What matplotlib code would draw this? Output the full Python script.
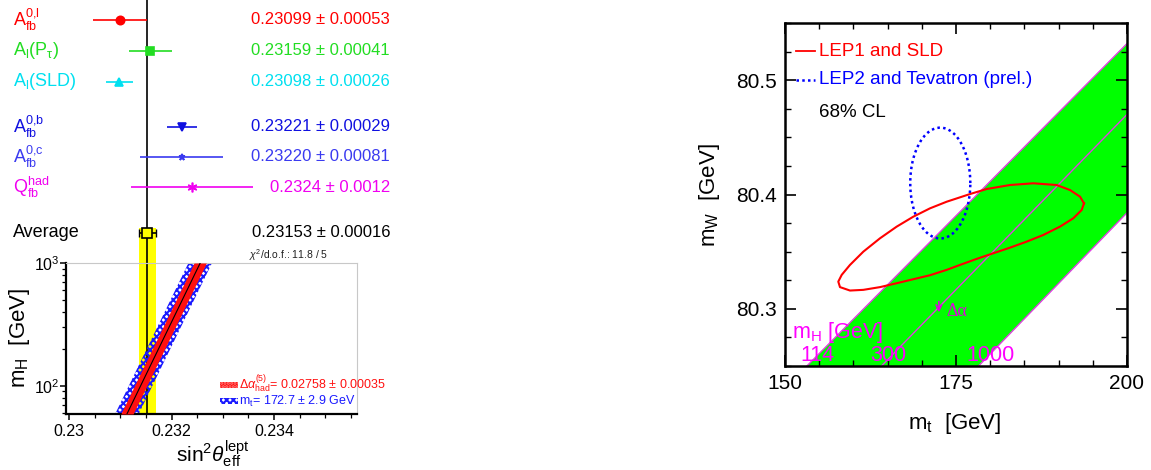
import numpy as np
import matplotlib
matplotlib.use('Agg')
from matplotlib import pyplot as plt
from matplotlib.patches import Rectangle
from matplotlib.ticker import FixedLocator, MultipleLocator, FuncFormatter, LogLocator, NullFormatter
from matplotlib.transforms import blended_transform_factory

plt.rcParams['font.family'] = ['Liberation Sans', 'DejaVu Sans']
plt.rcParams['mathtext.fontset'] = 'custom'
plt.rcParams['mathtext.rm'] = 'Liberation Sans'
plt.rcParams['mathtext.it'] = 'Liberation Sans:italic'
plt.rcParams['mathtext.bf'] = 'Liberation Sans:bold'
plt.rcParams['hatch.linewidth'] = 1.5

# ---- left: sin2theta_eff^lept measurements
labels = [r'$\mathrm{A_{fb}^{0{,}l}}$', r'$\mathrm{A_l(P_\tau)}$', r'$\mathrm{A_l(SLD)}$',
          r'$\mathrm{A_{fb}^{0{,}b}}$', r'$\mathrm{A_{fb}^{0{,}c}}$', r'$\mathrm{Q_{fb}^{had}}$', 'Average']
values = [0.23099, 0.23159, 0.23098, 0.23221, 0.23220, 0.2324, 0.23153]
errors = [0.00053, 0.00041, 0.00026, 0.00029, 0.00081, 0.0012, 0.00016]
value_text = ['0.23099 \u00b1 0.00053', '0.23159 \u00b1 0.00041', '0.23098 \u00b1 0.00026',
              '0.23221 \u00b1 0.00029', '0.23220 \u00b1 0.00081', '0.2324 \u00b1 0.0012',
              '0.23153 \u00b1 0.00016']
colors = ['#ff0000', '#22dd22', '#00e0f0', '#1010e0', '#3a3af0', '#f000f0', 'black']
markers = ['o', 's', '^', 'v', '*', (6, 2, 0), 's']
msizes = [6, 6, 5.5, 5.5, 5, 7, 7]
rows = [0, 1, 2, 3.45, 4.42, 5.4, 6.87]

# SM prediction bands in (sin2theta, mH)
band_mh = [59, 1000]
band_center = [0.23113, 0.23256]
red_half = 0.00012    # delta alpha_had
blue_half = 0.00023   # m_t

# ---- right: mW vs mt
# LEP1+SLD 68% contour
lep1_mt = [193.71, 193.13, 191.67, 189.72, 186.30, 182.89, 179.49, 177.05, 173.64, 171.20,
           168.76, 166.33, 163.89, 161.45, 159.50, 158.29, 157.79, 158.04, 159.50, 161.45,
           163.89, 166.33, 168.76, 171.20, 173.64, 175.58, 178.03, 180.45, 182.89, 185.34,
           187.76, 190.20, 192.15, 193.38, 193.71]
lep1_mw = [80.3923, 80.3981, 80.4039, 80.4083, 80.4098, 80.4083, 80.4048, 80.4004, 80.3937, 80.3879,
           80.3806, 80.3719, 80.3617, 80.3500, 80.3384, 80.3297, 80.3238, 80.3190, 80.3160, 80.3166,
           80.3190, 80.3224, 80.3259, 80.3294, 80.3341, 80.3384, 80.3437, 80.3486, 80.3535, 80.3588,
           80.3646, 80.3719, 80.3792, 80.3865, 80.3923]
mt_dir, mt_dir_err = 172.7, 2.9
mw_dir, mw_dir_err = 80.410, 0.032
cl68 = 1.515
sm_mt = {114: [153.2, 200.0], 300: [164.1, 200.0], 1000: [178.3, 200.0]}
sm_mw = {114: [80.25, 80.532], 300: [80.25, 80.470], 1000: [80.25, 80.384]}

W, H = 1151, 470
fig = plt.figure(figsize=(W / 100, H / 100), dpi=100)


def fpos(x0, y0, x1, y1):
    return [x0 / W, 1 - y1 / H, (x1 - x0) / W, (y1 - y0) / H]


def fxy(x, y):
    return x / W, 1 - y / H


xlo, xhi = 0.229941, 0.23562
avg, avg_err = values[-1], errors[-1]

# upper part of left panel
ax_top = fig.add_axes(fpos(66, 0, 357, 263))
ax_top.set_xlim(xlo, xhi)
ax_top.set_ylim(7.84, -0.645)
ax_top.axis('off')
ax_top.axvspan(avg - avg_err, avg + avg_err, ymin=0, ymax=(7.84 - 6.70) / (7.84 + 0.645),
               color='#ffff00', lw=0, zorder=0)
ax_top.axvline(avg, color='black', lw=1.2, zorder=1)
tr = blended_transform_factory(fig.transFigure, ax_top.transData)
for i in range(len(values)):
    c = colors[i]
    last = i == len(values) - 1
    mfc = '#ffff00' if last else c
    ax_top.errorbar(values[i], rows[i], xerr=errors[i], fmt='none', ecolor=c, elinewidth=1.2,
                    capsize=3 if last else 0, zorder=3)
    ax_top.plot(values[i], rows[i], marker=markers[i], ms=msizes[i], color=c, mfc=mfc,
                mec=c, mew=1.2, ls='none', zorder=4)
    ax_top.text(13 / W, rows[i], labels[i], transform=tr, color=c, fontsize=13,
                ha='left', va='center')
    ax_top.text(390 / W, rows[i], value_text[i], transform=tr, color=c, fontsize=12,
                ha='right', va='center')

# lower part: mH vs sin2theta
ax_low = fig.add_axes(fpos(66, 263, 357, 414))
ax_low.set_xlim(xlo, xhi)
ax_low.set_yscale('log')
ax_low.set_ylim(59, 1000)
ax_low.axvspan(avg - avg_err, avg + avg_err, color='#ffff00', lw=0, zorder=0)
ax_low.axvline(avg, color='black', lw=1.2, zorder=1)
bc = np.array(band_center)
ax_low.fill_betweenx(band_mh, bc - blue_half, bc + blue_half, facecolor='none',
                     edgecolor='#1a1aff', hatch='xxxxx', lw=0, zorder=2)
ax_low.fill_betweenx(band_mh, bc - red_half, bc + red_half, facecolor='#ff1010',
                     edgecolor='#ff1010', lw=0, zorder=3)
ax_low.plot(band_center, band_mh, color='black', lw=0.8, zorder=4)
for s in ['top', 'right']:
    ax_low.spines[s].set_color('#c8c8c8')
    ax_low.spines[s].set_linewidth(0.8)
for s in ['left', 'bottom']:
    ax_low.spines[s].set_linewidth(1.6)
ax_low.xaxis.set_major_locator(FixedLocator([0.230, 0.232, 0.234]))
ax_low.xaxis.set_minor_locator(MultipleLocator(0.0005))
ax_low.xaxis.set_major_formatter(FuncFormatter(lambda v, p: '%g' % round(v, 4)))
ax_low.yaxis.set_major_locator(FixedLocator([100, 1000]))
ax_low.yaxis.set_minor_locator(LogLocator(base=10, subs=np.arange(2, 10)))
ax_low.yaxis.set_minor_formatter(NullFormatter())
ax_low.tick_params(which='both', direction='out', labelsize=11.5, top=False, right=False)
ax_low.tick_params(which='major', length=4, width=1.1)
ax_low.tick_params(which='minor', length=3, width=0.9)
ax_low.tick_params(axis='y', which='major', pad=0.5)

fig.text(*fxy(289, 255), r'$\chi^2$/d.o.f.: 11.8 / 5', fontsize=7.5, ha='center', va='center',
         color='#202020')
fig.add_artist(Rectangle(fxy(220, 388), 18 / W, 6 / H, transform=fig.transFigure,
                         facecolor='#ff1010', edgecolor='#ff8080', hatch='.....', lw=0))
fig.add_artist(Rectangle(fxy(220, 404), 18 / W, 6 / H, transform=fig.transFigure,
                         facecolor='none', edgecolor='#1a1aff', hatch='xxxxx', lw=0))
fig.text(*fxy(239, 384), r'$\Delta\alpha^{(5)}_{\mathrm{had}}$= 0.02758 $\pm$ 0.00035',
         fontsize=9, color='#ff1010', ha='left', va='center')
fig.text(*fxy(239, 401.5), r'm$_\mathrm{t}$= 172.7 $\pm$ 2.9 GeV', fontsize=9,
         color='#1a1aff', ha='left', va='center')
fig.text(*fxy(20, 338), r'm$_\mathrm{H}$  [GeV]', fontsize=16, rotation=90,
         ha='center', va='center')
fig.text(*fxy(213, 454), r'sin$^2\theta^{\mathrm{lept}}_{\mathrm{eff}}$', fontsize=15,
         ha='center', va='center')

# right panel
ax = fig.add_axes(fpos(785, 23, 1127, 366))
ax.set_xlim(150, 200)
ax.set_ylim(80.25, 80.55)
fx = sm_mt[114] + sm_mt[1000][::-1]
fy = sm_mw[114] + sm_mw[1000][::-1]
ax.fill(fx, fy, color='#00ff00', lw=0, zorder=1)
for mh in [114, 300, 1000]:
    ax.plot(sm_mt[mh], sm_mw[mh], color='#e040e0', lw=1.0, zorder=2)
ax.plot(lep1_mt, lep1_mw, color='#ff0000', lw=1.5, zorder=4, solid_joinstyle='round')
t = np.linspace(0, 2 * np.pi, 200)
ax.plot(mt_dir + cl68 * mt_dir_err * np.cos(t), mw_dir + cl68 * mw_dir_err * np.sin(t),
        color='#0000ff', lw=1.8, ls=(0, (1, 1.3)), zorder=3)

ax.plot([0.032, 0.088], [0.918, 0.918], transform=ax.transAxes, color='#ff0000', lw=1.3)
ax.plot([0.032, 0.088], [0.834, 0.834], transform=ax.transAxes, color='#0000ff', lw=1.8,
        ls=(0, (1, 1.3)))
ax.text(0.099, 0.918, 'LEP1 and SLD', transform=ax.transAxes, color='#ff0000',
        fontsize=13.5, va='center')
ax.text(0.099, 0.834, 'LEP2 and Tevatron (prel.)', transform=ax.transAxes, color='#0000ff',
        fontsize=13.5, va='center')
ax.text(0.099, 0.738, '68% CL', transform=ax.transAxes, color='black', fontsize=13.5,
        va='center')

ax.text(151.0, 80.279, r'm$_\mathrm{H}$ [GeV]', color='#ff00ff', fontsize=15.5, va='center',
        zorder=5)
for lab, xm in zip(['114', '300', '1000'], [154.7, 165.1, 180.1]):
    ax.text(xm, 80.259, lab, color='#ff00ff', fontsize=15.5, ha='center', va='center', zorder=5)
ax.annotate('', xy=(172.5, 80.2945), xytext=(172.5, 80.3088),
            arrowprops=dict(arrowstyle='->', color='#e000e0', lw=1.2, mutation_scale=10))
ax.text(173.6, 80.298, '\u0394\u03b1', color='#e000e0', fontsize=13, family='Liberation Serif',
        va='center')

ax.xaxis.set_major_locator(FixedLocator([150, 175, 200]))
ax.xaxis.set_minor_locator(MultipleLocator(5))
ax.yaxis.set_major_locator(FixedLocator([80.3, 80.4, 80.5]))
ax.yaxis.set_minor_locator(MultipleLocator(0.025))
ax.yaxis.set_major_formatter(FuncFormatter(lambda v, p: '%.1f' % v))
ax.tick_params(which='both', direction='in', top=True, right=True, labelsize=15)
ax.tick_params(which='major', length=8, width=1.2, pad=6)
ax.tick_params(which='minor', length=4, width=1.0)
for s in ax.spines.values():
    s.set_linewidth(1.8)
fig.text(*fxy(710, 195), r'm$_\mathrm{W}$  [GeV]', fontsize=16, rotation=90,
         ha='center', va='center')
fig.text(*fxy(955, 423), r'm$_\mathrm{t}$  [GeV]', fontsize=16, ha='center', va='center')

plt.savefig('out.png', dpi=100)
